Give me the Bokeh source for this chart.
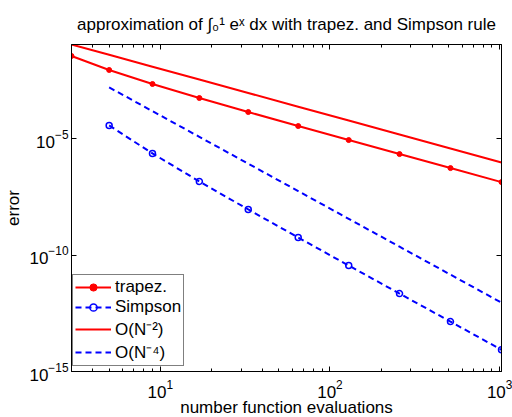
from bokeh.plotting import figure
from bokeh.models import (Range1d, FixedTicker, LogAxis, Legend, LegendItem,
                          CustomJSTickFormatter)
from bokeh.embed import file_html
from bokeh.resources import INLINE

# ---- data ----
n_trap = [3, 5, 9, 17, 33, 65, 129, 257, 513, 1025]
err_trap = [3.565e-2, 8.940e-3, 2.237e-3, 5.593e-4, 1.398e-4,
            3.496e-5, 8.740e-6, 2.185e-6, 5.462e-7, 1.366e-7]
n_simp = [5, 9, 17, 33, 65, 129, 257, 513, 1025]
err_simp = [3.701e-5, 2.326e-6, 1.456e-7, 9.104e-9, 5.690e-10,
            3.556e-11, 2.223e-12, 1.39e-13, 8.5e-15]
ref_n2 = [1.111e-1, 4.0e-2, 1.235e-2, 3.460e-3, 9.183e-4,
          2.367e-4, 6.009e-5, 1.514e-5, 3.800e-6, 9.518e-7]
ref_n4 = [1.6e-3, 1.524e-4, 1.197e-5, 8.434e-7, 5.602e-8,
          3.611e-9, 2.292e-10, 1.444e-11, 9.059e-13]

x_major = [10, 100, 1000]
x_minor = [4, 5, 6, 7, 8, 9, 20, 30, 40, 50, 60, 70, 80, 90,
           200, 300, 400, 500, 600, 700, 800, 900]
y_major = [1e-15, 1e-10, 1e-5]
x_lim = (3, 1025)
y_lim = (1e-15, 0.1111)

title_text = "approximation of \u222b\u2080\u00b9 e\u02e3 dx with trapez. and Simpson rule"
labels = ["trapez.", "Simpson", "O(N\u207b\u00b2)", "O(N\u207b\u2074)"]

FONT = "Liberation Sans"
RED = "#ff0000"
BLUE = "#0000ff"

p = figure(x_axis_type="log", y_axis_type="log",
           x_range=Range1d(*x_lim), y_range=Range1d(*y_lim),
           frame_width=430, frame_height=327,
           min_border_left=71, min_border_right=11,
           min_border_top=44, min_border_bottom=46,
           output_backend="svg", toolbar_location=None,
           background_fill_color="white", border_fill_color="white")

p.title.text = title_text
p.title.align = "center"
p.title.text_font = FONT
p.title.text_font_size = "17px"
p.title.text_font_style = "normal"
p.title.text_color = "black"
p.title.standoff = 22

p.outline_line_color = "black"
p.outline_line_width = 1
p.grid.visible = False

xt = FixedTicker(ticks=x_major, minor_ticks=x_minor)
yt = FixedTicker(ticks=y_major, minor_ticks=[])

for ax in p.xaxis:
    ax.ticker = xt
    ax.axis_label = "number function evaluations"
for ax in p.yaxis:
    ax.ticker = yt
    ax.axis_label = "error"

for ax in list(p.xaxis) + list(p.yaxis):
    ax.axis_label_text_font = FONT
    ax.axis_label_text_font_size = "17px"
    ax.axis_label_text_font_style = "normal"
    ax.axis_label_text_color = "black"
    ax.major_label_text_font = FONT
    ax.major_label_text_font_size = "17px"
    ax.major_label_text_color = "black"
    ax.major_tick_in = 5
    ax.major_tick_out = 0
    ax.minor_tick_in = 3
    ax.minor_tick_out = 0
    ax.axis_line_color = "black"
    ax.major_tick_line_color = "black"
    ax.minor_tick_line_color = "black"

p.xaxis.major_label_standoff = 8
p.xaxis.axis_label_standoff = -3
p.yaxis.major_label_standoff = 3
p.yaxis.axis_label_standoff = 3

blank = CustomJSTickFormatter(code="return ''")
top = LogAxis(ticker=xt, formatter=blank, major_tick_in=5, major_tick_out=0,
              minor_tick_in=3, minor_tick_out=0, major_label_text_font_size="0px",
              major_label_standoff=0, axis_line_color="black")
right = LogAxis(ticker=yt, formatter=blank, major_tick_in=5, major_tick_out=0,
                minor_tick_in=3, minor_tick_out=0, major_label_text_font_size="0px",
                major_label_standoff=0, axis_line_color="black")
p.add_layout(top, "above")
p.add_layout(right, "right")

# ---- series ----
r_trap_l = p.line(n_trap, err_trap, line_color=RED, line_width=2)
r_trap_m = p.scatter(n_trap, err_trap, marker="circle", size=5,
                     fill_color=RED, line_color=RED)
r_simp_l = p.line(n_simp, err_simp, line_color=BLUE, line_width=2, line_dash="6 4")
r_simp_m = p.scatter(n_simp, err_simp, marker="circle", size=6,
                     fill_color=None, line_color=BLUE, line_width=1.5)
r_n2 = p.line(n_trap, ref_n2, line_color=RED, line_width=2)
r_n4 = p.line(n_simp, ref_n4, line_color=BLUE, line_width=2, line_dash="6 4")

legend = Legend(items=[
    LegendItem(label=labels[0], renderers=[r_trap_l, r_trap_m]),
    LegendItem(label=labels[1], renderers=[r_simp_l, r_simp_m]),
    LegendItem(label=labels[2], renderers=[r_n2]),
    LegendItem(label=labels[3], renderers=[r_n4]),
])
legend.location = (1, 5)
legend.margin = 0
legend.padding = 2
legend.spacing = 0
legend.label_height = 18
legend.glyph_height = 18
legend.glyph_width = 36
legend.label_standoff = 4
legend.label_text_font = FONT
legend.label_text_font_size = "17px"
legend.label_text_color = "black"
legend.border_line_color = "black"
legend.border_line_width = 1
legend.background_fill_color = "white"
legend.background_fill_alpha = 1.0
p.add_layout(legend)

open("out.html", "w").write(file_html(p, INLINE))
